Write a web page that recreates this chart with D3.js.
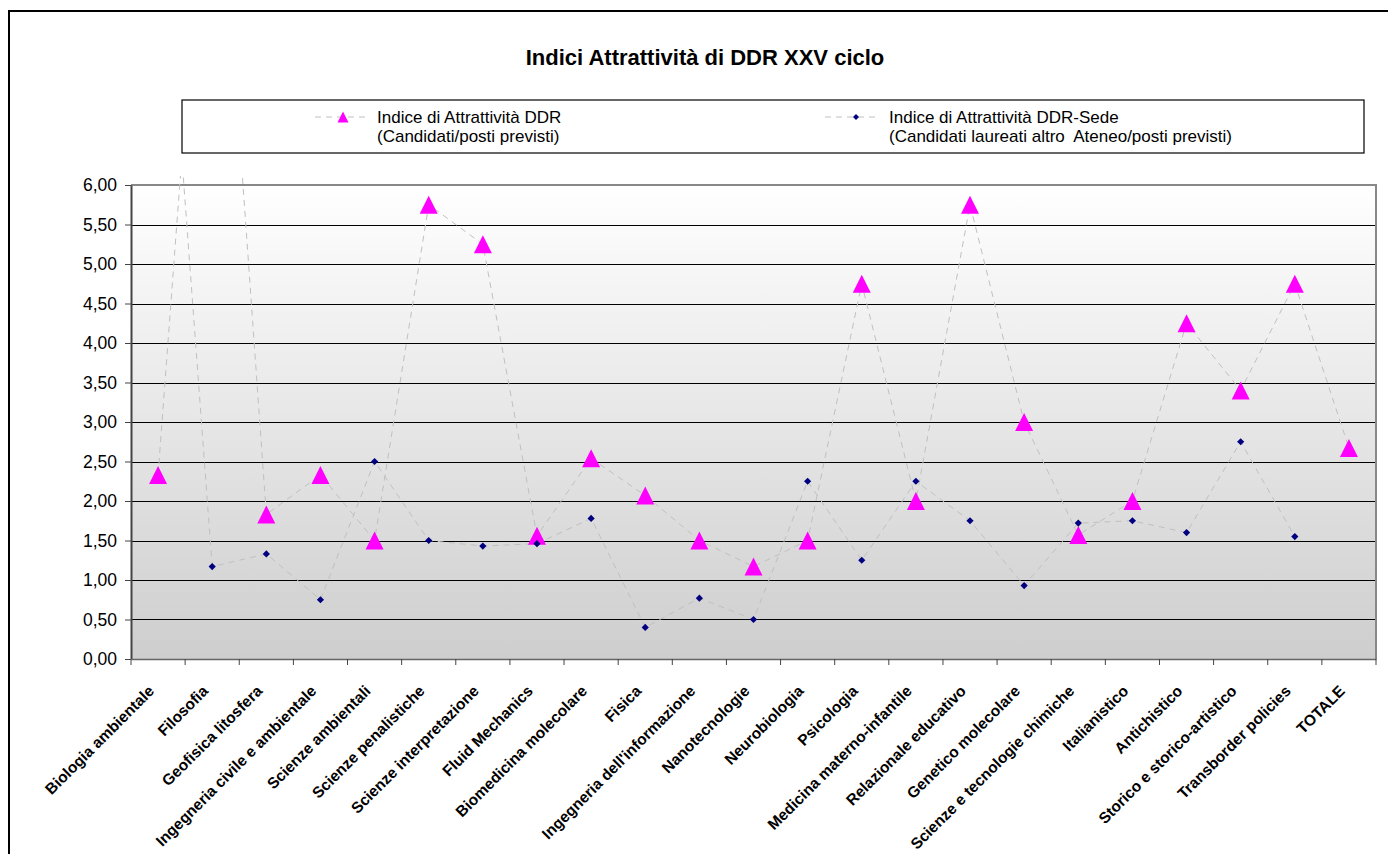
<!DOCTYPE html>
<html>
<head>
<meta charset="utf-8">
<script src="https://cdn.jsdelivr.net/npm/d3@7"></script>
<style>
  body { margin: 0; background: #fff; }
  svg { display: block; font-family: "Liberation Sans", Arial, sans-serif; }
</style>
</head>
<body>
<div id="chart"></div>
<script>
const categories = [
    "Biologia ambientale", "Filosofia", "Geofisica litosfera", "Ingegneria civile e ambientale",
    "Scienze ambientali", "Scienze penalistiche", "Scienze interpretazione", "Fluid Mechanics",
    "Biomedicina molecolare", "Fisica", "Ingegneria dell'informazione", "Nanotecnologie",
    "Neurobiologia", "Psicologia", "Medicina materno-infantile", "Relazionale educativo",
    "Genetico molecolare", "Scienze e tecnologie chimiche", "Italianistico", "Antichistico",
    "Storico e storico-artistico", "Transborder policies", "TOTALE"
];

// Indice di Attrattività DDR (Candidati/posti previsti)
const ddrValues = [
    2.33, 11.5, 1.83, 2.33, 1.50, 5.75, 5.25, 1.56, 2.54, 2.07, 1.50, 1.17,
    1.50, 4.75, 2.00, 5.75, 3.00, 1.57, 2.00, 4.25, 3.40, 4.75, 2.67
];

// Indice di Attrattività DDR-Sede (Candidati laureati altro Ateneo/posti previsti)
const sedeValues = [
    10.4, 1.17, 1.33, 0.75, 2.50, 1.50, 1.43, 1.46, 1.78, 0.40, 0.77, 0.50,
    2.25, 1.25, 2.25, 1.75, 0.93, 1.72, 1.75, 1.60, 2.75, 1.55, null
];

const yTicks = [0, 0.5, 1, 1.5, 2, 2.5, 3, 3.5, 4, 4.5, 5, 5.5, 6];

const seriesNames = [
    ["Indice di Attrattività DDR", "(Candidati/posti previsti)"],
    ["Indice di Attrattività DDR-Sede", "(Candidati laureati altro  Ateneo/posti previsti)"]
];

const W = 1388, H = 854;
const plot = { left: 131, right: 1376, top: 185, bottom: 659 };

const svg = d3.select("#chart").append("svg")
    .attr("width", W)
    .attr("height", H);

// outer chart border (runs off the right/bottom of the picture)
svg.append("rect")
    .attr("x", 9).attr("y", 11)
    .attr("width", 1420).attr("height", 900)
    .attr("fill", "none")
    .attr("stroke", "#000")
    .attr("stroke-width", 2);

// title
svg.append("text")
    .attr("x", 705).attr("y", 65)
    .attr("text-anchor", "middle")
    .style("font-weight", "bold")
    .style("font-size", "22px")
    .text("Indici Attrattività di DDR XXV ciclo");

// scales
const x = d3.scaleBand()
    .domain(categories)
    .range([plot.left, plot.right])
    .padding(0);
const cx = d => x(d) + x.bandwidth() / 2;

const y = d3.scaleLinear()
    .domain([0, 6])
    .range([plot.bottom, plot.top]);

// plot background gradient
const defs = svg.append("defs");
const grad = defs.append("linearGradient")
    .attr("id", "bg")
    .attr("x1", 0).attr("y1", 0).attr("x2", 0).attr("y2", 1);
grad.append("stop").attr("offset", "0%").attr("stop-color", "#ffffff");
grad.append("stop").attr("offset", "100%").attr("stop-color", "#cecece");

defs.append("clipPath").attr("id", "clip")
    .append("rect")
    .attr("x", plot.left).attr("y", plot.top - 9)
    .attr("width", plot.right - plot.left)
    .attr("height", plot.bottom - plot.top + 9);

svg.append("rect")
    .attr("x", plot.left).attr("y", plot.top)
    .attr("width", plot.right - plot.left)
    .attr("height", plot.bottom - plot.top)
    .attr("fill", "url(#bg)");

// grid lines
svg.append("g")
    .selectAll("line")
    .data(yTicks.filter(t => t > 0 && t < 6))
    .join("line")
    .attr("x1", plot.left).attr("x2", plot.right)
    .attr("y1", d => Math.round(y(d)) + 0.5).attr("y2", d => Math.round(y(d)) + 0.5)
    .attr("stroke", "#000")
    .attr("stroke-width", 1)
    .attr("shape-rendering", "crispEdges");

// plot border (top/right grey)
svg.append("path")
    .attr("d", `M${plot.left},${plot.top}H${plot.right}V${plot.bottom}`)
    .attr("fill", "none")
    .attr("stroke", "#888")
    .attr("stroke-width", 2);

// y axis
const fmt = d => d3.format(".2f")(d).replace(".", ",");
const yAxis = svg.append("g")
    .attr("transform", `translate(${plot.left},0)`)
    .call(d3.axisLeft(y).tickValues(yTicks).tickFormat(fmt).tickSize(6).tickSizeOuter(0));
yAxis.select(".domain").attr("stroke", "#444").attr("stroke-width", 2);
yAxis.selectAll(".tick line").attr("stroke", "#444");
yAxis.selectAll("text")
    .attr("x", -14)
    .style("font-size", "17.5px")
    .style("font-family", "'Liberation Sans', Arial, sans-serif")
    .attr("fill", "#000");

// x axis
const xAxis = svg.append("g")
    .attr("transform", `translate(0,${plot.bottom})`)
    .call(d3.axisBottom(x).tickSize(0).tickSizeOuter(0));
xAxis.select(".domain").attr("stroke", "#666").attr("stroke-width", 1.5);
xAxis.selectAll("text")
    .attr("transform", "translate(-3,33) rotate(-45)")
    .attr("y", 0).attr("dy", 0)
    .style("text-anchor", "end")
    .style("font-size", "15.5px")
    .style("font-weight", "bold")
    .style("font-family", "'Liberation Sans', Arial, sans-serif")
    .attr("fill", "#000");

// boundary tick marks
svg.append("g")
    .selectAll("line")
    .data(categories.map(c => x(c)).concat([plot.right]))
    .join("line")
    .attr("x1", d => d).attr("x2", d => d)
    .attr("y1", plot.bottom).attr("y2", plot.bottom + 6)
    .attr("stroke", "#444");

// series
const dash = "6,5";
const lineGen = d3.line()
    .defined(d => d.v != null)
    .x(d => cx(d.c))
    .y(d => y(d.v));

const ddr = categories.map((c, i) => ({ c, v: ddrValues[i] }));
const sede = categories.map((c, i) => ({ c, v: sedeValues[i] }));

const marks = svg.append("g").attr("clip-path", "url(#clip)");

marks.append("path")
    .datum(sede)
    .attr("d", lineGen)
    .attr("fill", "none")
    .attr("stroke", "#c0c0c0")
    .attr("stroke-width", 1)
    .attr("stroke-dasharray", dash);

marks.append("path")
    .datum(ddr)
    .attr("d", lineGen)
    .attr("fill", "none")
    .attr("stroke", "#c0c0c0")
    .attr("stroke-width", 1)
    .attr("stroke-dasharray", dash);

const triPath = s => `M0,${-s}L${s},${s}L${-s},${s}Z`;
const diaPath = s => `M0,${-s}L${s},0L0,${s}L${-s},0Z`;

marks.selectAll(".tri")
    .data(ddr.filter(d => d.v != null && d.v <= 6))
    .join("path")
    .attr("class", "tri")
    .attr("transform", d => `translate(${cx(d.c)},${y(d.v)})`)
    .attr("d", triPath(9))
    .attr("fill", "#ff00ff");

marks.selectAll(".dia")
    .data(sede.filter(d => d.v != null && d.v <= 6))
    .join("path")
    .attr("class", "dia")
    .attr("transform", d => `translate(${cx(d.c)},${y(d.v)})`)
    .attr("d", diaPath(3.6))
    .attr("fill", "#000080");

// legend
svg.append("rect")
    .attr("x", 182).attr("y", 100)
    .attr("width", 1182).attr("height", 53)
    .attr("fill", "#fff")
    .attr("stroke", "#000")
    .attr("stroke-width", 1.2);

const legendItems = [
    { x0: 315, x1: 370, mx: 343, tx: 377, shape: triPath(5.5), fill: "#ff00ff", names: seriesNames[0] },
    { x0: 825, x1: 880, mx: 856, tx: 889, shape: diaPath(3), fill: "#000080", names: seriesNames[1] }
];

const lg = svg.append("g").selectAll("g").data(legendItems).join("g");
lg.append("line")
    .attr("x1", d => d.x0).attr("x2", d => d.x1)
    .attr("y1", 117).attr("y2", 117)
    .attr("stroke", "#c0c0c0")
    .attr("stroke-dasharray", dash);
lg.append("path")
    .attr("transform", d => `translate(${d.mx},117)`)
    .attr("d", d => d.shape)
    .attr("fill", d => d.fill);
lg.append("text")
    .attr("x", d => d.tx).attr("y", 123)
    .style("font-size", "17px")
    .text(d => d.names[0]);
lg.append("text")
    .attr("x", d => d.tx).attr("y", 142)
    .style("font-size", "17px")
    .style("white-space", "pre")
    .attr("xml:space", "preserve")
    .text(d => d.names[1]);
</script>
</body>
</html>
